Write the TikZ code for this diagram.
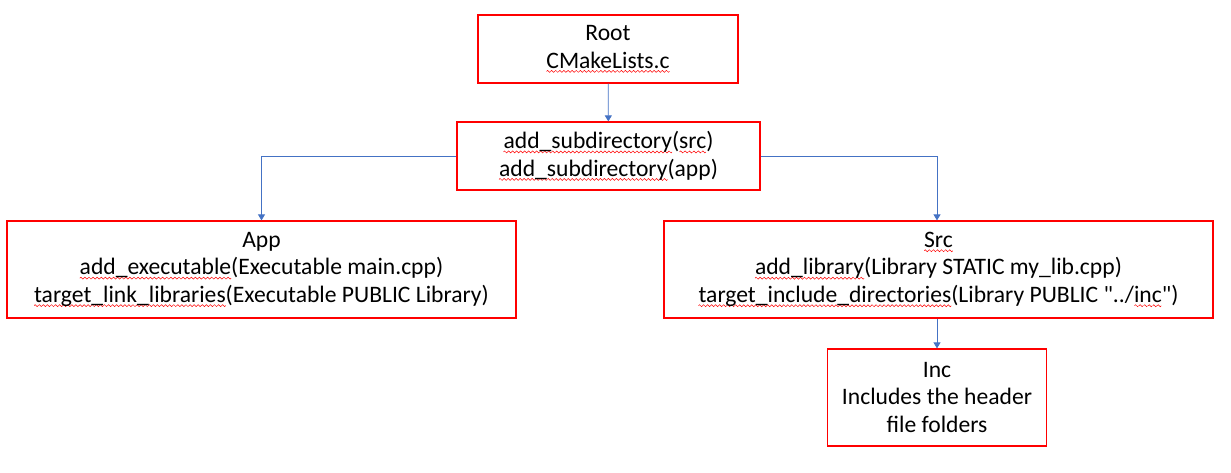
\documentclass[tikz,border=0pt]{standalone}
\usepackage{fontspec}
\setmainfont{Carlito}
\newfontfamily\plainq{Carlito}
\usetikzlibrary{arrows.meta}
\definecolor{lineblue}{RGB}{68,114,196}
% red spell-check wave under a word
\newsavebox\wavebox
\newsavebox\splbox
\sbox\wavebox{\tikz[x=1pt,y=1pt]{\useasboundingbox (0,-1.2) rectangle (4,1.2);
  \draw[red, line width=0.5pt] (0,0) sin (1,1) cos (2,0) sin (3,-1) cos (4,0);}}
\newcommand\spl[1]{\sbox\splbox{#1}%
  \rlap{\raisebox{-4.5pt}{\hbox to\wd\splbox{\xleaders\copy\wavebox\hfil}}}\usebox\splbox}

\begin{document}
\begin{tikzpicture}[x=1pt, y=-1pt,
  box/.style ={draw=red, line width=1.2pt, align=center, inner sep=0pt,
               font=\fontsize{23.6}{27.5}\selectfont},
  conn/.style={draw=lineblue, line width=0.8pt, -{Triangle[width=7pt,length=6pt]}}]

  \useasboundingbox (0,0) rectangle (1231,473);

  % top: root file and its two subdirectory calls
  \node[box, minimum width=260, minimum height=68] (root) at (608,49)
    {Root\\\spl{CMakeLists.c}};
  \node[box, minimum width=303, minimum height=68] (sub) at (608.5,156)
    {\spl{add\_subdirectory}(\spl{src})\\\spl{add\_subdirectory}(app)};

  % the two subdirectories
  \node[box, minimum width=509, minimum height=97] (app) at (261.5,269.5)
    {App\\\spl{add\_executable}(Executable main.cpp)\\\spl{target\_link\_libraries}(Executable PUBLIC Library)};
  \node[box, minimum width=549, minimum height=97] (src) at (938.5,269.5)
    {\spl{Src}\\\spl{add\_library}(Library STATIC my\_lib.cpp)\\\spl{target\_include\_directories}(Library PUBLIC {\plainq"}../\spl{inc}{\plainq"})};

  % header folder
  \node[box, minimum width=219, minimum height=97] (inc) at (937,397.5)
    {Inc\\Includes the header\\file folders};

  % connectors
  \draw[conn] (root) -- (sub);
  \draw[conn] (sub.west) -| (app.north);
  \draw[conn] (sub.east) -| (inc.north |- src.north);
  \draw[conn] (inc.north |- src.south) -- (inc.north);
\end{tikzpicture}
\end{document}
